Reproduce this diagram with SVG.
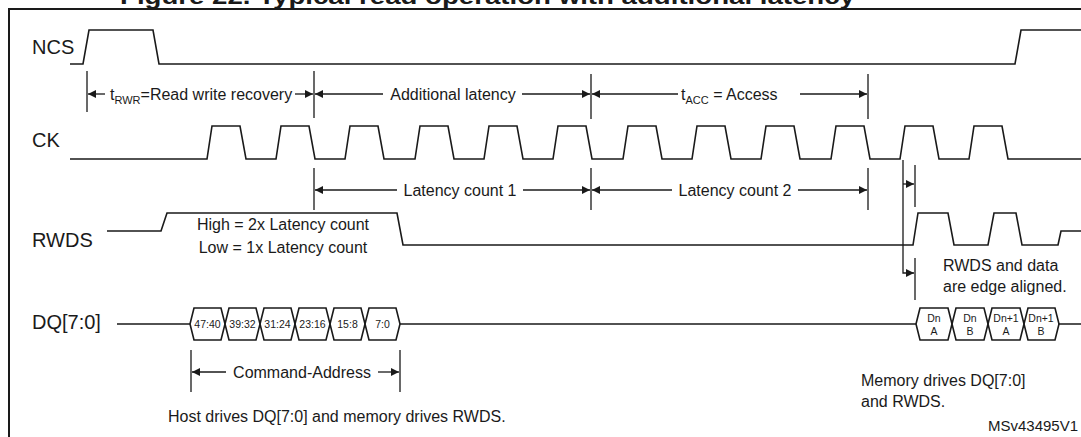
<svg xmlns="http://www.w3.org/2000/svg" width="1081" height="437" viewBox="0 0 1081 437">
<style>
text{font-family:"Liberation Sans",Arial,sans-serif;fill:#1a1a1a}
.lb{font-size:20px}
.t{font-size:16px}
.s{font-size:10.5px}
.sig{fill:none;stroke:#1a1a1a;stroke-width:1.6}
.dim{fill:none;stroke:#1a1a1a;stroke-width:1.3}
</style>
<defs>
<marker id="a" viewBox="0 0 10 10" refX="10" refY="5" markerWidth="10" markerHeight="8" markerUnits="userSpaceOnUse" orient="auto"><path d="M0,0 L10,5 L0,10 z" fill="#1a1a1a"/></marker>
</defs>
<rect width="1081" height="437" fill="#fff"/>
<text x="120" y="4" font-weight="bold" font-size="22" textLength="735" lengthAdjust="spacingAndGlyphs">Figure 22. Typical read operation with additional latency</text>
<path d="M9,445 V9 H1090" fill="none" stroke="#1a1a1a" stroke-width="2"/>

<g id="ncs"><text class="lb" x="32" y="54">NCS</text>
<path class="sig" d="M70,64 H83 L89,30 H153 L159,64 H1015 L1021,30 H1081"/></g>

<g id="ck"><text class="lb" x="32" y="147">CK</text>
<path class="sig" d="M70,159 H207 l5,-33 h28 l6,33 H276 l5,-33 h28 l6,33 H345 l5,-33 h28 l6,33 H415 l5,-33 h28 l6,33 H484 l5,-33 h28 l6,33 H553 l5,-33 h28 l6,33 H623 l5,-33 h28 l6,33 H692 l5,-33 h28 l6,33 H761 l5,-33 h28 l6,33 H831 l5,-33 h28 l6,33 H900 l5,-33 h28 l6,33 H969 l5,-33 h28 l6,33 H1081"/></g>

<g id="rwds"><text class="lb" x="32" y="247">RWDS</text>
<path class="sig" d="M107,231 H161 L167,213 H397 L403,245 H913 L918,213 H948 L954,245 H988 L994,213 H1016 L1022,245 H1058 L1061,231 H1081"/>
<text class="t" x="283" y="230" text-anchor="middle">High = 2x Latency count</text>
<text class="t" x="283" y="253" text-anchor="middle">Low = 1x Latency count</text>
<text class="t" x="943" y="271">RWDS and data</text>
<text class="t" x="943" y="292">are edge aligned.</text></g>

<g id="dq"><text class="lb" x="32" y="329">DQ[7:0]</text>
<path class="sig" d="M117,324 H190 M400,324 H916 M1058,324 H1081"/>
<g class="sig" stroke-width="1.3">
<path d="M190,324 l4,-16 h27 l4,16 l-4,16 h-27 z"/>
<path d="M225,324 l4,-16 h27 l4,16 l-4,16 h-27 z"/>
<path d="M260,324 l4,-16 h27 l4,16 l-4,16 h-27 z"/>
<path d="M295,324 l4,-16 h27 l4,16 l-4,16 h-27 z"/>
<path d="M330,324 l4,-16 h27 l4,16 l-4,16 h-27 z"/>
<path d="M365,324 l4,-16 h27 l4,16 l-4,16 h-27 z"/>
<path d="M916,324 l4,-16 h28 l4,16 l-4,16 h-28 z"/>
<path d="M952,324 l4,-16 h28 l4,16 l-4,16 h-28 z"/>
<path d="M988,324 l4,-16 h28 l4,16 l-4,16 h-28 z"/>
<path d="M1024,324 l4,-16 h27 l4,16 l-4,16 h-27 z"/>
</g>
<g class="s" text-anchor="middle">
<text x="207.5" y="328">47:40</text><text x="242.5" y="328">39:32</text><text x="277.5" y="328">31:24</text>
<text x="312.5" y="328">23:16</text><text x="347.5" y="328">15:8</text><text x="382.5" y="328">7:0</text>
<text x="934" y="322">Dn</text><text x="934" y="335">A</text>
<text x="970" y="322">Dn</text><text x="970" y="335">B</text>
<text x="1006" y="322">Dn+1</text><text x="1006" y="335">A</text>
<text x="1041" y="322">Dn+1</text><text x="1041" y="335">B</text>
</g>
<text class="t" x="168" y="422">Host drives DQ[7:0] and memory drives RWDS.</text>
<text class="t" x="861" y="386">Memory drives DQ[7:0]</text>
<text class="t" x="861" y="407">and RWDS.</text></g>

<g id="connectors">
<path class="dim" d="M87,71 V112 M314,71 V118 M591,74 V119 M868,74 V119 M314,168 V210 M591,168 V210 M868,168 V210 M915,165 V207 M915,258 V300 M191,350 V392 M400,350 V392"/>
<g class="dim" marker-end="url(#a)">
<path d="M105,94 H88"/><path d="M295,94 H313"/>
<path d="M383,94 H315"/><path d="M522,94 H590"/>
<path d="M678,94 H592"/><path d="M800,94 H867"/>
<path d="M397,190 H315"/><path d="M523,190 H590"/>
<path d="M672,190 H592"/><path d="M798,190 H867"/>
<path d="M903,184 H914"/><path d="M903,160 V273 H914"/>
<path d="M226,372 H192"/><path d="M378,372 H399"/>
</g>
<text class="t" x="110" y="100">t<tspan font-size="11" dy="4">RWR</tspan><tspan dy="-4">=Read write recovery</tspan></text>
<text class="t" x="453" y="100" text-anchor="middle">Additional latency</text>
<text class="t" x="681" y="100">t<tspan font-size="11" dy="4">ACC</tspan><tspan dy="-4"> = Access</tspan></text>
<text class="t" x="460" y="196" text-anchor="middle">Latency count 1</text>
<text class="t" x="735" y="196" text-anchor="middle">Latency count 2</text>
<text class="t" x="302" y="378" text-anchor="middle">Command-Address</text>
<text x="988" y="431" font-size="15">MSv43495V1</text>
</g>
</svg>
